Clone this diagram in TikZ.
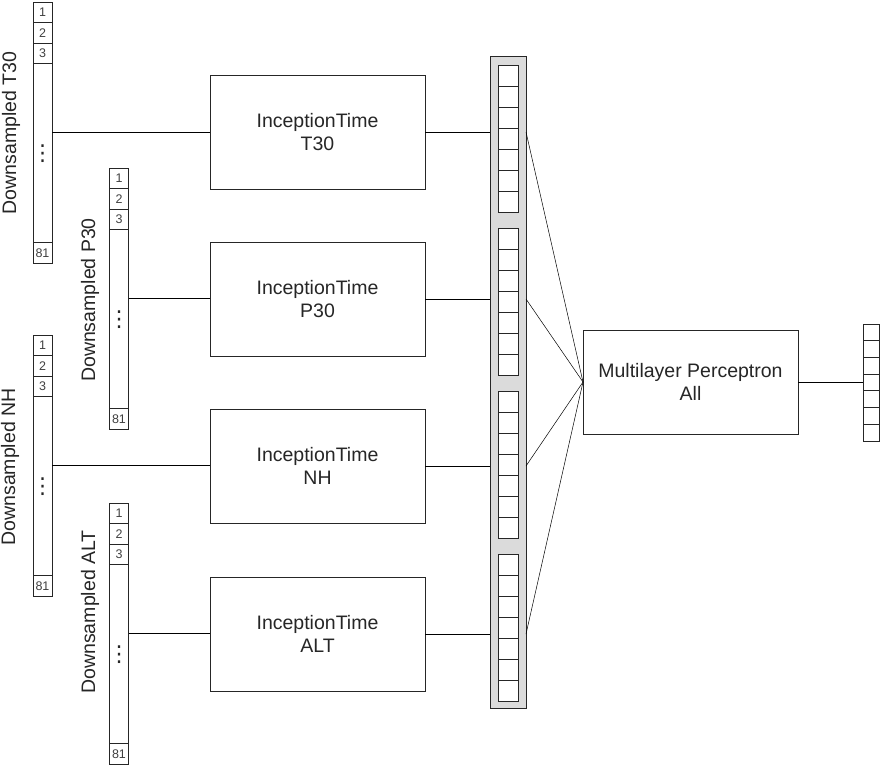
\documentclass[tikz,border=0pt]{standalone}
\usepackage{fontspec}
\setmainfont{Liberation Sans}
\newfontfamily\symfont{DejaVu Sans}
\begin{document}
\begin{tikzpicture}[x=1pt,y=-1pt,line width=0.9pt,
  cell/.style={draw=black!85,line width=0.9pt,inner sep=0pt,outer sep=0pt,anchor=north west,
    font=\fontsize{12.5}{13}\selectfont,text=black!75},
  frame/.style={draw=none,inner sep=0pt,outer sep=0pt,anchor=north west},
  bigbox/.style={draw=black!85,line width=0.9pt,inner sep=0pt,outer sep=0pt,anchor=north west,
    align=center,font=\fontsize{19.5}{23}\selectfont,text=black!85},
  vlabel/.style={rotate=90,inner sep=0pt,font=\fontsize{19.5}{23}\selectfont,text=black!85},
  dots/.style={inner sep=0pt,font=\symfont\fontsize{22}{22}\selectfont,text=black!85},
  conn/.style={draw=black,line width=0.9pt},
  thin/.style={draw=black,line width=0.5pt}]
\useasboundingbox (0,0) rectangle (880,766);
% input vectors
\newcommand{\invec}[3]{%
  \node[frame,minimum width=19pt,minimum height=261pt] (#1) at (#2,#3) {};
  \node[cell,minimum width=19pt,minimum height=20.5pt] (#1c1) at (#2,#3) {1};
  \node[cell,minimum width=19pt,minimum height=20.5pt] (#1c2) at (#2,#3+20.5) {2};
  \node[cell,minimum width=19pt,minimum height=20.5pt] (#1c3) at (#2,#3+41) {3};
  \node[cell,minimum width=19pt,minimum height=179pt] (#1c4) at (#2,#3+61.5) {};
  \node[dots] (#1d) at ([yshift=-0.5pt]#1c4.center) {⋮};
  \node[cell,minimum width=19pt,minimum height=20.5pt] (#1c5) at (#2,#3+240.5) {81};
}
\invec{vT}{33}{2}
\invec{vP}{109.5}{168}
\invec{vN}{33}{335}
\invec{vA}{109.5}{503}
% labels
\node[vlabel] (lT) at (11,133) {Downsampled T30};
\node[vlabel] (lP) at (90,300) {Downsampled P30};
\node[vlabel] (lN) at (10,467) {Downsampled NH};
\node[vlabel] (lA) at (90,612) {Downsampled ALT};
% inception boxes
\node[bigbox,minimum width=215pt,minimum height=114pt] (bT) at (210,75) {InceptionTime\\T30};
\node[bigbox,minimum width=215pt,minimum height=114pt] (bP) at (210,242) {InceptionTime\\P30};
\node[bigbox,minimum width=215pt,minimum height=114pt] (bN) at (210,409) {InceptionTime\\NH};
\node[bigbox,minimum width=215pt,minimum height=114pt] (bA) at (210,577) {InceptionTime\\ALT};
% concatenation column
\node[draw=black!85,fill=black!14,line width=0.9pt,inner sep=0pt,outer sep=0pt,anchor=north west,
  minimum width=36pt,minimum height=652pt] (col) at (490,56) {};
\foreach \g/\gy in {1/65,2/228,3/391,4/554}{
  \foreach \k in {0,...,6}{
    \node[cell,fill=white,minimum width=20pt,minimum height=21pt] (col\g c\k) at (498,\gy+21*\k) {};
  }
}
% MLP
\node[bigbox,minimum width=215pt,minimum height=104pt] (mlp) at (583,330) {Multilayer Perceptron\\All};
% output vector
\node[frame,minimum width=16pt,minimum height=117pt] (out) at (863,324) {};
\foreach \k in {0,...,6}{
  \node[cell,minimum width=16pt,minimum height=16.71pt] (outc\k) at (863,324+16.71*\k) {};
}
% connectors
\foreach \v/\b in {vT/bT,vP/bP,vN/bN,vA/bA}{
  \draw[conn] (\v.east) -- (\v.east -| \b.west);
  \draw[conn] (\b.east) -- (\b.east -| col.west);
  \draw[thin] (\b.east -| col.east) -- (mlp.west);
}
\draw[conn] (mlp.east) -- (mlp.east -| out.west);
\end{tikzpicture}
\end{document}
